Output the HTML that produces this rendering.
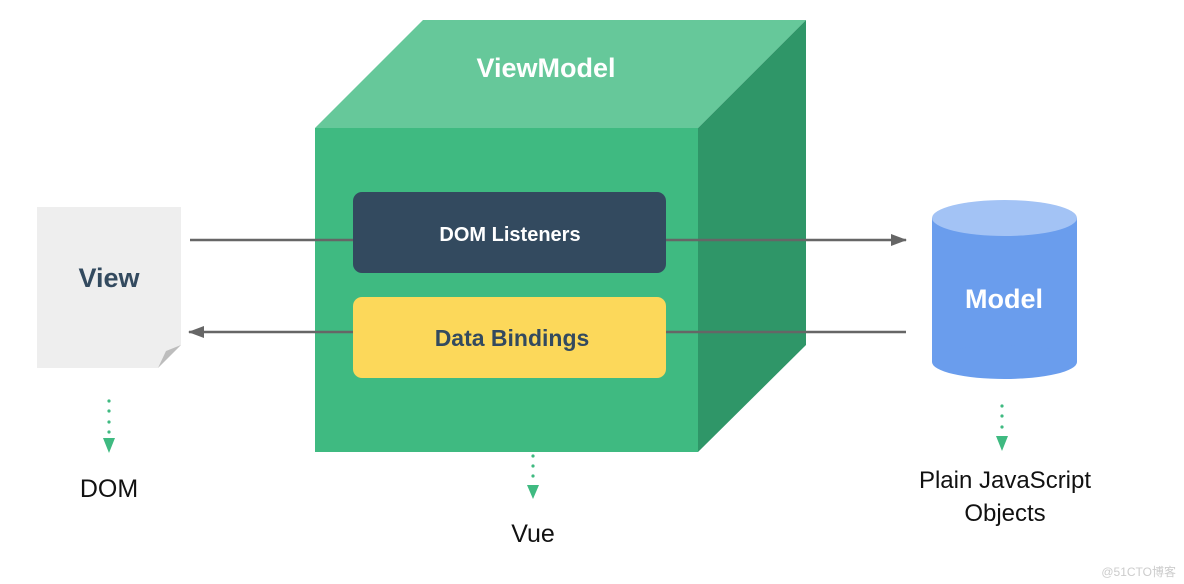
<!DOCTYPE html>
<html><head><meta charset="utf-8"><style>
html,body{margin:0;padding:0;background:#fff;width:1184px;height:584px;overflow:hidden}
svg{display:block}
text{font-family:"Liberation Sans","DejaVu Sans",sans-serif}
</style></head><body>
<svg width="1184" height="584" viewBox="0 0 1184 584" xmlns="http://www.w3.org/2000/svg">
<defs>
<marker id="ag" markerWidth="16" markerHeight="12" refX="15" refY="6" orient="auto" markerUnits="userSpaceOnUse"><path d="M0,0 L16,6 L0,12 Z" fill="#666"/></marker>
</defs>
<polygon points="315,128 423,20 806,20 698,128" fill="#66c89a"/>
<polygon points="698,128 806,20 806,345 698,452" fill="#2f9668"/>
<rect x="315" y="128" width="383" height="324" fill="#3fba81"/>
<text x="546" y="77" font-size="27" font-weight="bold" fill="#fff" text-anchor="middle">ViewModel</text>
<line x1="190" y1="240" x2="906" y2="240" stroke="#666" stroke-width="2.5" marker-end="url(#ag)"/>
<line x1="906" y1="332" x2="189" y2="332" stroke="#666" stroke-width="2.5" marker-end="url(#ag)"/>
<rect x="353" y="192" width="313" height="81" rx="9" fill="#334a5f"/>
<text x="510" y="241" font-size="20" font-weight="bold" fill="#fff" text-anchor="middle">DOM Listeners</text>
<rect x="353" y="297" width="313" height="81" rx="9" fill="#fcd85a"/>
<text x="512" y="346" font-size="23" font-weight="bold" fill="#334a5f" text-anchor="middle">Data Bindings</text>
<polygon points="37,207 181,207 181,345 158,368 37,368" fill="#eeeeee"/>
<polygon points="181,345 166,351 158,368" fill="#bdbdbd"/>
<text x="109" y="287" font-size="27" font-weight="bold" fill="#334a5f" text-anchor="middle">View</text>
<rect x="932" y="218" width="145" height="144" fill="#6a9ded"/>
<ellipse cx="1004.5" cy="362" rx="72.5" ry="17" fill="#6a9ded"/>
<ellipse cx="1004.5" cy="218" rx="72.5" ry="18" fill="#a3c3f5"/>
<text x="1004" y="308" font-size="27" font-weight="bold" fill="#fff" text-anchor="middle">Model</text>
<g fill="#3fba81">
<circle cx="109" cy="401" r="1.6"/><circle cx="109" cy="411" r="1.6"/><circle cx="109" cy="422" r="1.6"/><circle cx="109" cy="432" r="1.6"/>
<polygon points="103,438 115,438 109,453"/>
<circle cx="533" cy="456" r="1.6"/><circle cx="533" cy="466" r="1.6"/><circle cx="533" cy="476" r="1.6"/>
<polygon points="527,485 539,485 533,499"/>
<circle cx="1002" cy="406" r="1.6"/><circle cx="1002" cy="416" r="1.6"/><circle cx="1002" cy="427" r="1.6"/>
<polygon points="996,436 1008,436 1002,451"/>
</g>
<text x="109" y="497" font-size="25" fill="#111" text-anchor="middle">DOM</text>
<text x="533" y="542" font-size="25" fill="#111" text-anchor="middle">Vue</text>
<text x="1005" y="488" font-size="24" fill="#111" text-anchor="middle">Plain JavaScript</text>
<text x="1005" y="521" font-size="24" fill="#111" text-anchor="middle">Objects</text>
<text x="1176" y="576" font-size="12" fill="#ccc" text-anchor="end" style='font-family:"Liberation Sans","Noto Sans CJK SC",sans-serif'>@51CTO博客</text>
</svg>
</body></html>
